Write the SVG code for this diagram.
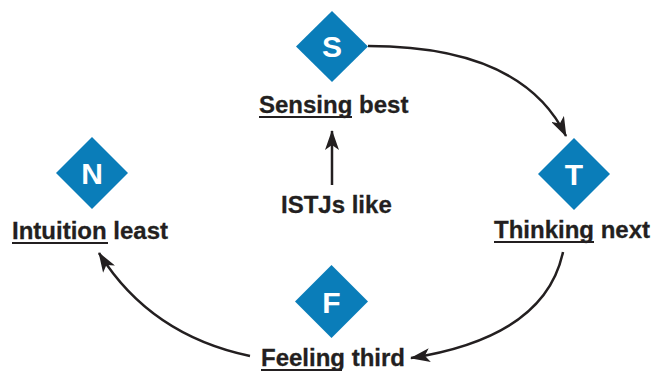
<svg xmlns="http://www.w3.org/2000/svg" width="656" height="371" viewBox="0 0 656 371">
  <style>
    .dia { fill: #0a7db9; }
    .letter { font-family: "Liberation Sans", Arial, sans-serif; font-weight: bold; font-size: 30px; fill: #ffffff; text-anchor: middle; }
    .label { font-family: "Liberation Sans", Arial, sans-serif; font-weight: bold; font-size: 24px; fill: #231f20; stroke: #231f20; stroke-width: 0.3; }
    .ul { stroke: #231f20; stroke-width: 2; }
    .conn { fill: none; stroke: #231f20; stroke-width: 2.5; }
  </style>
  <defs>
    <marker id="arrow" viewBox="0 0 20 14" refX="19" refY="7" markerWidth="20" markerHeight="14" markerUnits="userSpaceOnUse" orient="auto">
      <path d="M0,0 L20,7 L0,14 L5,7 Z" fill="#231f20"/>
    </marker>
  </defs>

  <g id="connectors">
    <path class="conn" d="M368,46 Q522,46 566,136" marker-end="url(#arrow)"/>
    <path class="conn" d="M563,252 Q545,337 411,358" marker-end="url(#arrow)"/>
    <path class="conn" d="M250,356 Q150,335 99,253" marker-end="url(#arrow)"/>
    <path class="conn" d="M332,185 L332,131" marker-end="url(#arrow)"/>
  </g>

  <g id="node-S">
    <path class="dia" d="M332,11 L368,46.5 L332,82 L296,46.5 Z"/>
    <text class="letter" x="332" y="57">S</text>
    <text class="label" x="259" y="113">Sensing best</text>
    <line class="ul" x1="259" y1="117" x2="352" y2="117"/>
  </g>

  <g id="node-T">
    <path class="dia" d="M574,138 L610,174 L574,210 L538,174 Z"/>
    <text class="letter" x="574" y="185">T</text>
    <text class="label" x="494" y="238">Thinking next</text>
    <line class="ul" x1="494" y1="242" x2="594" y2="242"/>
  </g>

  <g id="node-N">
    <path class="dia" d="M92,137 L128,173 L92,209 L56,173 Z"/>
    <text class="letter" x="92" y="184">N</text>
    <text class="label" x="12" y="239">Intuition least</text>
    <line class="ul" x1="12" y1="243" x2="108" y2="243"/>
  </g>

  <g id="node-F">
    <path class="dia" d="M331.5,265 L368,301.5 L331.5,338 L295,301.5 Z"/>
    <text class="letter" x="331.5" y="312.5">F</text>
    <text class="label" x="261" y="366">Feeling third</text>
    <line class="ul" x1="261" y1="370" x2="342" y2="370"/>
  </g>

  <g id="caption">
    <text class="label" x="281" y="213">ISTJs like</text>
  </g>
</svg>
